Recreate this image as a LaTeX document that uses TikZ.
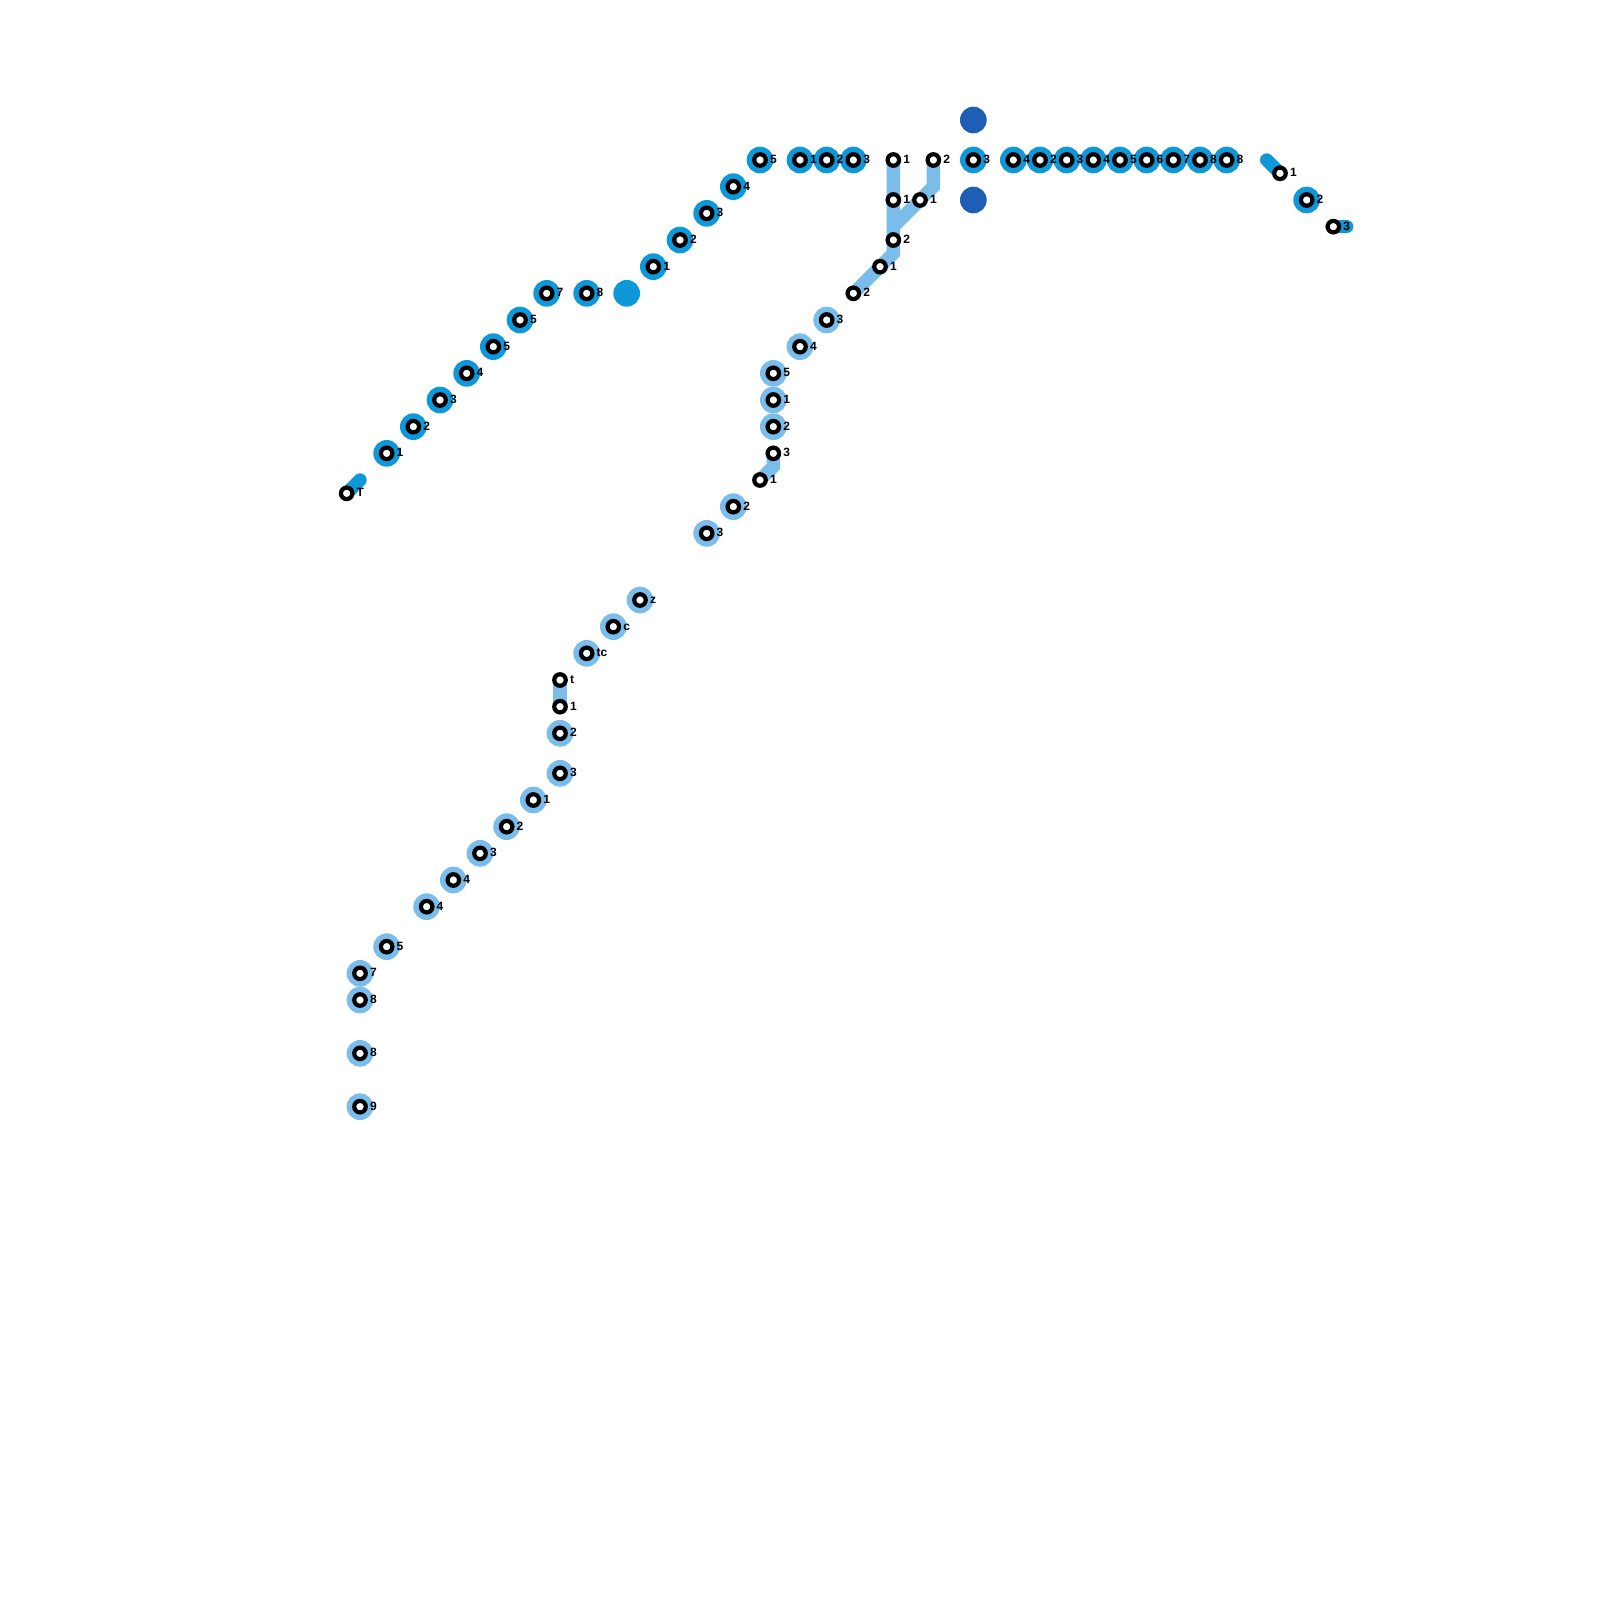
\documentclass[tikz,border=0pt]{standalone}
\usepackage{fontspec}
\setmainfont{Liberation Sans}
\definecolor{dk}{HTML}{0E97D9}
\definecolor{lt}{HTML}{7ABCEA}
\definecolor{deep}{HTML}{1D5FB5}
\pgfdeclarelayer{under}
\pgfsetlayers{under,main}
\tikzset{
  ring/.style={circle,draw=black,fill=white,line width=4.2pt,inner sep=0pt,outer sep=0pt,minimum size=11.5pt},
  lab/.style={anchor=base west,inner sep=0pt,outer sep=0pt,font=\bfseries\fontsize{12}{12}\selectfont,text=black},
  halo/.style={circle,fill=#1,draw=none,inner sep=0pt,outer sep=0pt,minimum size=26.7pt},
  route/.style={draw=#1,line width=13.33pt,line join=miter},
  stub/.style={draw=#1,line width=13.33pt,line cap=round}
}
% plain stop: name, x, y, label
\newcommand{\Stop}[4]{%
  \node[ring] (#1) at (#2,#3) {};
  \node[lab] (#1-t) at ([shift={(10pt,-3.4pt)}]#1.center) {#4};
}
% stop with a halo: name, x, y, label, colour
\newcommand{\HStop}[5]{%
  \Stop{#1}{#2}{#3}{#4}
  \begin{pgfonlayer}{under}
    \node[halo=#5] (#1-h) at (#2,#3) {};
  \end{pgfonlayer}
}
\begin{document}
\begin{tikzpicture}[x=26.6667pt,y=-26.6667pt]
\useasboundingbox (0,0) rectangle (60,60);
\begin{pgfonlayer}{under}
  \fill[white] (0,0) rectangle (60,60);
\end{pgfonlayer}

% dark blue stops
\foreach \x/\y/\t [count=\i] in {
  28.5/6/5,27.5/7/4,26.5/8/3,25.5/9/2,24.5/10/1,22/11/8,20.5/11/7,19.5/12/5,18.5/13/5,
  17.5/14/4,16.5/15/3,15.5/16/2,14.5/17/1,30/6/1,31/6/2,32/6/3,36.5/6/3,
  38/6/4,39/6/2,40/6/3,41/6/4,42/6/5,43/6/6,44/6/7,45/6/8,46/6/8,49/7.5/2}
  {\HStop{d\i}{\x}{\y}{\t}{dk}}

% light blue stops
\foreach \x/\y/\t [count=\i] in {
  31/12/3,30/13/4,29/14/5,29/15/1,29/16/2,27.5/19/2,26.5/20/3,
  24/22.5/z,23/23.5/c,22/24.5/tc,21/27.5/2,21/29/3,20/30/1,19/31/2,18/32/3,17/33/4,16/34/4,
  14.5/35.5/5,13.5/36.5/7,13.5/37.5/8,13.5/39.5/8,13.5/41.5/9}
  {\HStop{l\i}{\x}{\y}{\t}{lt}}

% solid discs
\node[halo=dk] (disc1) at (23.5,11) {};
\node[halo=deep] (disc2) at (36.5,4.5) {};
\node[halo=deep] (disc3) at (36.5,7.5) {};

% plain stops joined by routes
\Stop{a1}{33.5}{6}{1}
\Stop{a2}{33.5}{7.5}{1}
\Stop{a3}{33.5}{9}{2}
\Stop{a4}{33}{10}{1}
\Stop{a5}{32}{11}{2}
\Stop{b1}{35}{6}{2}
\Stop{b2}{34.5}{7.5}{1}
\Stop{c1}{29}{17}{3}
\Stop{c2}{28.5}{18}{1}
\Stop{e1}{21}{25.5}{t}
\Stop{e2}{21}{26.5}{1}
\Stop{t1}{13}{18.5}{T}
\Stop{r1}{48}{6.5}{1}
\Stop{r2}{50}{8.5}{3}
\coordinate (tEnd) at (13.5,18);
\coordinate (rStart) at (47.5,6);
\coordinate (rEnd) at (50.5,8.5);

\begin{pgfonlayer}{under}
  \path[route=lt] (a1.center) -- (33.5,9.5) -- (a5.center);
  \path[route=lt] (b1.center) -- (35,7) -- (33.5,8.5);
  \path[route=lt] (c1.center) -- (29,17.5) -- (c2.center);
  \path[route=lt] (e1.center) -- (e2.center);
  \path[stub=dk] (t1.center) -- (tEnd);
  \path[stub=dk] (rStart) -- (r1.center);
  \path[stub=dk] (r2.center) -- (rEnd);
\end{pgfonlayer}
\end{tikzpicture}
\end{document}
